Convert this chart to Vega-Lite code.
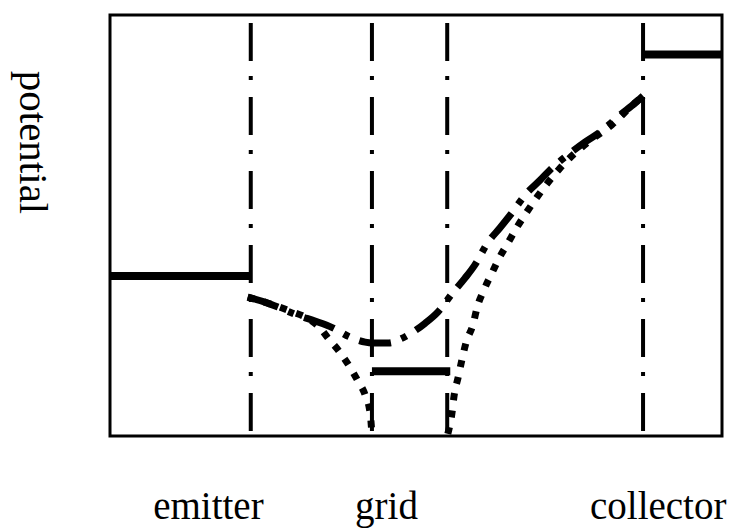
{
  "$schema": "https://vega.github.io/schema/vega-lite/v6.json",
  "width": 612,
  "height": 421,
  "autosize": {"type": "none"},
  "padding": {"left": 110, "top": 15, "right": 9, "bottom": 96},
  "background": "white",
  "config": {
    "view": {"stroke": "black", "strokeWidth": 3},
    "font": "Liberation Serif"
  },
  "datasets": {
    "electrodes": [
      {"electrode": "emitter", "pos": 23.0},
      {"electrode": "grid", "pos": 42.8},
      {"electrode": "grid", "pos": 55.1},
      {"electrode": "collector", "pos": 87.1}
    ],
    "levels": [
      {"electrode": "emitter", "from": 0, "to": 23.0, "potential": 38.0},
      {"electrode": "grid", "from": 42.8, "to": 55.6, "potential": 15.4},
      {"electrode": "collector", "from": 87.1, "to": 100, "potential": 90.6}
    ],
    "curves": [
      {"curve": "A", "branch": "A", "x": 22.5, "v": 33.0},
      {"curve": "A", "branch": "A", "x": 25.3, "v": 31.8},
      {"curve": "A", "branch": "A", "x": 27.8, "v": 30.4},
      {"curve": "A", "branch": "A", "x": 30.6, "v": 28.7},
      {"curve": "A", "branch": "A", "x": 33.5, "v": 27.3},
      {"curve": "A", "branch": "A", "x": 36.4, "v": 25.7},
      {"curve": "A", "branch": "A", "x": 39.2, "v": 23.5},
      {"curve": "A", "branch": "A", "x": 41.7, "v": 22.3},
      {"curve": "A", "branch": "A", "x": 42.8, "v": 22.1},
      {"curve": "A", "branch": "A", "x": 45.6, "v": 22.1},
      {"curve": "A", "branch": "A", "x": 47.4, "v": 23.0},
      {"curve": "A", "branch": "A", "x": 49.3, "v": 24.5},
      {"curve": "A", "branch": "A", "x": 51.5, "v": 26.8},
      {"curve": "A", "branch": "A", "x": 53.6, "v": 29.5},
      {"curve": "A", "branch": "A", "x": 56.0, "v": 34.0},
      {"curve": "A", "branch": "A", "x": 58.0, "v": 37.5},
      {"curve": "A", "branch": "A", "x": 59.6, "v": 40.6},
      {"curve": "A", "branch": "A", "x": 61.8, "v": 46.1},
      {"curve": "A", "branch": "A", "x": 63.7, "v": 49.4},
      {"curve": "A", "branch": "A", "x": 65.4, "v": 52.5},
      {"curve": "A", "branch": "A", "x": 68.1, "v": 57.7},
      {"curve": "A", "branch": "A", "x": 70.3, "v": 60.8},
      {"curve": "A", "branch": "A", "x": 71.9, "v": 63.2},
      {"curve": "A", "branch": "A", "x": 75.2, "v": 67.2},
      {"curve": "A", "branch": "A", "x": 77.6, "v": 69.8},
      {"curve": "A", "branch": "A", "x": 80.1, "v": 72.2},
      {"curve": "A", "branch": "A", "x": 83.3, "v": 76.2},
      {"curve": "A", "branch": "A", "x": 85.8, "v": 79.1},
      {"curve": "A", "branch": "A", "x": 87.1, "v": 80.8},
      {"curve": "B", "branch": "B1", "x": 22.5, "v": 33.0},
      {"curve": "B", "branch": "B1", "x": 26.1, "v": 31.4},
      {"curve": "B", "branch": "B1", "x": 29.4, "v": 29.7},
      {"curve": "B", "branch": "B1", "x": 32.7, "v": 27.6},
      {"curve": "B", "branch": "B1", "x": 34.3, "v": 25.7},
      {"curve": "B", "branch": "B1", "x": 35.6, "v": 23.3},
      {"curve": "B", "branch": "B1", "x": 37.4, "v": 20.2},
      {"curve": "B", "branch": "B1", "x": 39.1, "v": 16.6},
      {"curve": "B", "branch": "B1", "x": 40.5, "v": 13.1},
      {"curve": "B", "branch": "B1", "x": 41.7, "v": 9.7},
      {"curve": "B", "branch": "B1", "x": 42.5, "v": 5.5},
      {"curve": "B", "branch": "B1", "x": 42.8, "v": 0.5},
      {"curve": "B", "branch": "B2", "x": 55.2, "v": 0.5},
      {"curve": "B", "branch": "B2", "x": 55.9, "v": 5.7},
      {"curve": "B", "branch": "B2", "x": 56.2, "v": 9.3},
      {"curve": "B", "branch": "B2", "x": 56.9, "v": 14.0},
      {"curve": "B", "branch": "B2", "x": 57.5, "v": 18.1},
      {"curve": "B", "branch": "B2", "x": 58.2, "v": 22.3},
      {"curve": "B", "branch": "B2", "x": 59.3, "v": 26.4},
      {"curve": "B", "branch": "B2", "x": 60.0, "v": 30.6},
      {"curve": "B", "branch": "B2", "x": 61.1, "v": 34.7},
      {"curve": "B", "branch": "B2", "x": 62.4, "v": 38.7},
      {"curve": "B", "branch": "B2", "x": 63.6, "v": 42.3},
      {"curve": "B", "branch": "B2", "x": 65.0, "v": 45.8},
      {"curve": "B", "branch": "B2", "x": 66.5, "v": 49.6},
      {"curve": "B", "branch": "B2", "x": 68.1, "v": 53.2},
      {"curve": "B", "branch": "B2", "x": 69.8, "v": 56.8},
      {"curve": "B", "branch": "B2", "x": 73.4, "v": 63.4},
      {"curve": "B", "branch": "B2", "x": 75.3, "v": 66.3},
      {"curve": "B", "branch": "B2", "x": 78.4, "v": 70.1},
      {"curve": "B", "branch": "B2", "x": 82.0, "v": 73.9},
      {"curve": "B", "branch": "B2", "x": 85.0, "v": 78.1},
      {"curve": "B", "branch": "B2", "x": 87.1, "v": 80.8}
    ]
  },
  "encoding": {
    "x": {
      "type": "quantitative",
      "scale": {"domain": [0, 100], "nice": false, "zero": false},
      "axis": {
        "values": [16.0, 45.1, 89.5],
        "labelExpr": "datum.value < 30 ? 'emitter' : datum.value < 60 ? 'grid' : 'collector'",
        "labelFont": "Liberation Serif",
        "labelFontSize": 39,
        "labelColor": "black",
        "labelPadding": 82,
        "labelBaseline": "alphabetic",
        "labelFlush": false,
        "labelOverlap": false,
        "labelBound": false,
        "ticks": false,
        "tickSize": 0,
        "domain": false,
        "grid": false,
        "title": null
      }
    },
    "y": {
      "type": "quantitative",
      "scale": {"domain": [0, 100], "nice": false, "zero": false},
      "axis": {
        "labels": false,
        "ticks": false,
        "domain": false,
        "grid": false,
        "title": "potential",
        "titleFont": "Liberation Serif",
        "titleFontSize": 41,
        "titleFontWeight": "normal",
        "titleColor": "black",
        "titleAngle": 90,
        "titleX": -79,
        "titleY": 127,
        "titleAlign": "center",
        "titleBaseline": "middle"
      }
    }
  },
  "layer": [
    {
      "data": {"name": "electrodes"},
      "mark": {"type": "rule", "color": "black", "strokeWidth": 4, "strokeDash": [38, 15, 4, 17], "strokeCap": "butt"},
      "encoding": {
        "x": {"field": "pos", "type": "quantitative"},
        "y": {"datum": 98.1},
        "y2": {"datum": 0.5}
      }
    },
    {
      "data": {"name": "levels"},
      "mark": {"type": "rule", "color": "black", "strokeWidth": 8, "strokeCap": "butt"},
      "encoding": {
        "x": {"field": "from", "type": "quantitative"},
        "x2": {"field": "to"},
        "y": {"field": "potential", "type": "quantitative"}
      }
    },
    {
      "data": {"name": "curves"},
      "transform": [{"filter": "datum.curve === 'A'"}],
      "mark": {"type": "line", "color": "black", "strokeWidth": 7, "strokeDash": [32, 11, 6, 11], "strokeCap": "butt", "interpolate": "monotone"},
      "encoding": {
        "x": {"field": "x", "type": "quantitative"},
        "y": {"field": "v", "type": "quantitative"},
        "detail": {"field": "branch"}
      }
    },
    {
      "data": {"name": "curves"},
      "transform": [{"filter": "datum.curve === 'B'"}],
      "mark": {"type": "line", "color": "black", "strokeWidth": 7, "strokeDash": [7, 10], "strokeCap": "butt", "interpolate": "monotone"},
      "encoding": {
        "x": {"field": "x", "type": "quantitative"},
        "y": {"field": "v", "type": "quantitative"},
        "detail": {"field": "branch"}
      }
    }
  ]
}
